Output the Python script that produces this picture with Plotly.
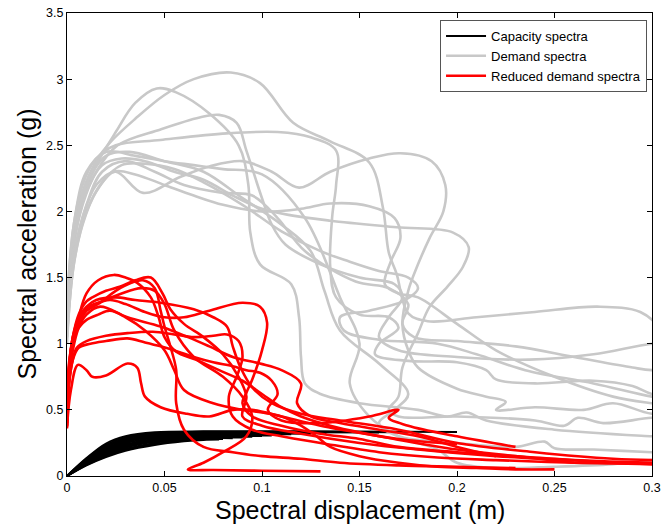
import plotly.graph_objects as go

# ---------------- Capacity spectra (Sd [m], Sa [g]) ----------------
CAP_SD = [
    [0, 0.010, 0.020, 0.030, 0.045, 0.070, 0.120, 0.200],
    [0, 0.010, 0.020, 0.030, 0.045, 0.070, 0.120, 0.168],
    [0, 0.010, 0.020, 0.030, 0.045, 0.070, 0.120, 0.160],
    [0, 0.010, 0.020, 0.030, 0.045, 0.070, 0.100, 0.133],
    [0, 0.010, 0.020, 0.030, 0.045, 0.070, 0.100, 0.125],
    [0, 0.010, 0.020, 0.030, 0.045, 0.070, 0.090, 0.115],
    [0, 0.010, 0.020, 0.030, 0.045, 0.070, 0.090, 0.110],
    [0, 0.010, 0.020, 0.030, 0.045, 0.070, 0.085, 0.105],
    [0, 0.010, 0.020, 0.030, 0.045, 0.065, 0.080, 0.100],
    [0, 0.010, 0.020, 0.030, 0.045, 0.065, 0.080, 0.095],
    [0, 0.010, 0.020, 0.030, 0.045, 0.060, 0.075, 0.090],
    [0, 0.010, 0.020, 0.030, 0.045, 0.060, 0.075, 0.085],
    [0, 0.010, 0.020, 0.030, 0.045, 0.060, 0.070, 0.080],
    [0, 0.010, 0.020, 0.030, 0.045, 0.060, 0.070, 0.078],
]
CAP_SA = [
    [0, 0.135, 0.245, 0.300, 0.330, 0.338, 0.338, 0.333],
    [0, 0.130, 0.235, 0.292, 0.324, 0.334, 0.334, 0.330],
    [0, 0.125, 0.226, 0.283, 0.317, 0.330, 0.330, 0.328],
    [0, 0.120, 0.217, 0.274, 0.310, 0.325, 0.326, 0.324],
    [0, 0.115, 0.208, 0.265, 0.303, 0.320, 0.322, 0.320],
    [0, 0.110, 0.199, 0.256, 0.296, 0.314, 0.316, 0.316],
    [0, 0.106, 0.191, 0.247, 0.289, 0.309, 0.312, 0.312],
    [0, 0.102, 0.183, 0.238, 0.282, 0.304, 0.307, 0.307],
    [0, 0.098, 0.175, 0.229, 0.274, 0.296, 0.302, 0.302],
    [0, 0.094, 0.168, 0.221, 0.266, 0.290, 0.297, 0.297],
    [0, 0.090, 0.161, 0.213, 0.258, 0.281, 0.291, 0.291],
    [0, 0.087, 0.155, 0.205, 0.250, 0.275, 0.286, 0.286],
    [0, 0.084, 0.149, 0.198, 0.242, 0.268, 0.279, 0.280],
    [0, 0.081, 0.144, 0.191, 0.235, 0.262, 0.273, 0.275],
]

# ---------------- Demand spectra ----------------
DEM_SD = [
    [0, 0.003, 0.008, 0.015, 0.022, 0.035, 0.050, 0.065, 0.084, 0.099, 0.116, 0.135, 0.155, 0.162, 0.165, 0.169, 0.175, 0.185, 0.210, 0.240, 0.272, 0.294, 0.305, 0.310],
    [0, 0.003, 0.008, 0.015, 0.025, 0.035, 0.046, 0.056, 0.073, 0.088, 0.093, 0.094, 0.099, 0.115, 0.119, 0.120, 0.122, 0.130, 0.150, 0.180, 0.195, 0.205, 0.215, 0.250, 0.300, 0.330],
    [0, 0.003, 0.008, 0.015, 0.026, 0.048, 0.068, 0.078, 0.087, 0.092, 0.100, 0.105, 0.112, 0.130, 0.150, 0.168, 0.172, 0.165, 0.160, 0.170, 0.200, 0.237, 0.270, 0.300, 0.320],
    [0, 0.003, 0.008, 0.015, 0.025, 0.048, 0.082, 0.108, 0.125, 0.138, 0.138, 0.136, 0.135, 0.138, 0.150, 0.165, 0.170, 0.160, 0.158, 0.175, 0.200, 0.215, 0.220, 0.240, 0.270, 0.290, 0.300, 0.320],
    [0, 0.003, 0.008, 0.015, 0.025, 0.039, 0.058, 0.073, 0.090, 0.105, 0.119, 0.135, 0.155, 0.171, 0.187, 0.194, 0.193, 0.186, 0.180, 0.175, 0.172, 0.175, 0.180, 0.200, 0.215, 0.225, 0.220, 0.240, 0.265, 0.280, 0.300, 0.330],
    [0, 0.004, 0.010, 0.018, 0.028, 0.040, 0.055, 0.070, 0.085, 0.100, 0.115, 0.135, 0.169, 0.198, 0.206, 0.203, 0.195, 0.186, 0.180, 0.172, 0.170, 0.165, 0.170, 0.200, 0.240, 0.255, 0.262, 0.275, 0.300, 0.320],
    [0, 0.003, 0.008, 0.015, 0.024, 0.035, 0.050, 0.065, 0.080, 0.100, 0.120, 0.135, 0.155, 0.168, 0.171, 0.166, 0.163, 0.170, 0.180, 0.200, 0.220, 0.250, 0.280, 0.300, 0.320],
    [0, 0.004, 0.010, 0.018, 0.028, 0.040, 0.055, 0.070, 0.090, 0.110, 0.130, 0.145, 0.160, 0.175, 0.180, 0.172, 0.155, 0.140, 0.142, 0.160, 0.190, 0.210, 0.235, 0.270, 0.300, 0.320],
    [0, 0.004, 0.010, 0.018, 0.030, 0.045, 0.060, 0.080, 0.095, 0.108, 0.122, 0.148, 0.165, 0.175, 0.172, 0.178, 0.200, 0.230, 0.260, 0.290, 0.300, 0.320],
    [0, 0.004, 0.010, 0.020, 0.032, 0.050, 0.070, 0.090, 0.110, 0.125, 0.132, 0.140, 0.160, 0.175, 0.168, 0.160, 0.170, 0.200, 0.230, 0.245, 0.250, 0.270, 0.300, 0.320],
    [0, 0.004, 0.010, 0.020, 0.035, 0.050, 0.065, 0.080, 0.100, 0.122, 0.140, 0.150, 0.145, 0.155, 0.170, 0.190, 0.200, 0.220, 0.250, 0.280, 0.300, 0.320],
]
DEM_SA = [
    [1.20, 1.80, 2.15, 2.38, 2.52, 2.70, 2.88, 3.00, 3.05, 2.97, 2.67, 2.53, 2.37, 2.03, 1.69, 1.53, 1.23, 1.17, 1.20, 1.24, 1.28, 1.24, 1.10, 0.95],
    [1.15, 1.75, 2.10, 2.35, 2.60, 2.82, 2.93, 2.90, 2.74, 2.50, 2.20, 1.84, 1.60, 1.45, 1.20, 0.90, 0.70, 0.62, 0.55, 0.50, 0.45, 0.48, 0.42, 0.35, 0.30, 0.28],
    [1.10, 1.70, 2.05, 2.30, 2.50, 2.62, 2.71, 2.73, 2.67, 2.46, 2.10, 1.90, 1.75, 1.60, 1.50, 1.45, 1.35, 1.20, 1.05, 0.95, 0.90, 0.88, 0.92, 1.00, 1.02],
    [1.25, 1.85, 2.20, 2.40, 2.50, 2.54, 2.59, 2.60, 2.56, 2.46, 2.20, 1.96, 1.58, 1.35, 1.22, 1.20, 1.12, 1.00, 0.92, 0.87, 0.86, 0.80, 0.73, 0.70, 0.72, 0.68, 0.62, 0.60],
    [1.05, 1.60, 1.95, 2.20, 2.30, 2.14, 2.26, 2.34, 2.38, 2.30, 2.18, 2.30, 2.40, 2.44, 2.38, 2.20, 2.00, 1.80, 1.60, 1.40, 1.15, 0.95, 0.82, 0.66, 0.60, 0.56, 0.50, 0.52, 0.50, 0.55, 0.47, 0.45],
    [1.15, 1.80, 2.15, 2.35, 2.40, 2.38, 2.30, 2.24, 2.12, 2.02, 1.97, 1.93, 1.88, 1.84, 1.73, 1.58, 1.43, 1.28, 1.08, 0.82, 0.60, 0.50, 0.45, 0.45, 0.42, 0.38, 0.44, 0.40, 0.44, 0.45],
    [1.00, 1.55, 1.90, 2.15, 2.30, 2.28, 2.20, 2.12, 2.05, 2.00, 2.02, 2.06, 2.04, 1.95, 1.80, 1.62, 1.45, 1.38, 1.35, 1.15, 0.95, 0.75, 0.60, 0.55, 0.52],
    [1.05, 1.65, 2.00, 2.22, 2.35, 2.36, 2.32, 2.22, 2.05, 1.85, 1.70, 1.62, 1.55, 1.50, 1.42, 1.32, 1.25, 1.20, 1.10, 1.03, 1.00, 0.92, 0.80, 0.70, 0.60, 0.55],
    [1.10, 1.70, 2.05, 2.30, 2.38, 2.30, 2.20, 2.14, 2.12, 1.95, 1.70, 1.47, 1.42, 1.30, 1.15, 1.05, 1.02, 0.98, 0.90, 0.82, 0.80, 0.80],
    [1.20, 1.85, 2.20, 2.42, 2.45, 2.38, 2.30, 2.10, 1.90, 1.70, 1.40, 1.10, 0.85, 0.62, 0.50, 0.40, 0.30, 0.25, 0.22, 0.26, 0.21, 0.20, 0.18, 0.17],
    [1.30, 1.95, 2.30, 2.45, 2.42, 2.38, 2.35, 2.32, 2.28, 1.95, 1.35, 1.00, 0.70, 0.45, 0.30, 0.20, 0.10, 0.06, 0.07, 0.09, 0.12, 0.14],
]

# ---------------- Reduced demand spectra ----------------
RED_SD = [
    [0, 0.001, 0.003, 0.006, 0.010, 0.016, 0.024, 0.030, 0.036, 0.043, 0.047, 0.050, 0.056, 0.066, 0.078, 0.090, 0.100, 0.110, 0.120, 0.135, 0.150, 0.170, 0.200],
    [0, 0.001, 0.003, 0.006, 0.010, 0.013, 0.020, 0.027, 0.035, 0.043, 0.049, 0.053, 0.060, 0.070, 0.080, 0.088, 0.092, 0.090, 0.100, 0.120, 0.150, 0.180, 0.220, 0.260, 0.300, 0.320],
    [0, 0.001, 0.003, 0.006, 0.010, 0.016, 0.025, 0.033, 0.039, 0.045, 0.048, 0.050, 0.053, 0.056, 0.056, 0.060, 0.070, 0.085, 0.100, 0.120, 0.140, 0.170, 0.200, 0.230],
    [0, 0.001, 0.003, 0.006, 0.010, 0.015, 0.022, 0.030, 0.040, 0.050, 0.060, 0.073, 0.090, 0.099, 0.1026, 0.100, 0.095, 0.092, 0.090, 0.095, 0.110, 0.130, 0.150, 0.170, 0.200, 0.240, 0.280, 0.300, 0.320],
    [0, 0.002, 0.0056, 0.010, 0.013, 0.020, 0.031, 0.036, 0.038, 0.040, 0.048, 0.0615, 0.073, 0.085, 0.095, 0.110, 0.130, 0.160, 0.200, 0.230, 0.260],
    [0, 0.001, 0.003, 0.005, 0.010, 0.020, 0.031, 0.044, 0.055, 0.065, 0.075, 0.082, 0.088, 0.090, 0.087, 0.083, 0.085, 0.095, 0.110, 0.130, 0.160, 0.190, 0.220, 0.260, 0.300],
    [0, 0.001, 0.003, 0.006, 0.012, 0.020, 0.031, 0.040, 0.048, 0.057, 0.065, 0.075, 0.085, 0.092, 0.099, 0.105, 0.108, 0.103, 0.110, 0.130, 0.155, 0.170, 0.165, 0.175, 0.200, 0.230],
    [0, 0.001, 0.003, 0.006, 0.010, 0.017, 0.031, 0.048, 0.062, 0.073, 0.085, 0.099, 0.110, 0.120, 0.118, 0.125, 0.140, 0.160, 0.180, 0.200, 0.220],
    [0, 0.001, 0.003, 0.006, 0.010, 0.015, 0.025, 0.035, 0.048, 0.065, 0.075, 0.082, 0.085, 0.089, 0.095, 0.105, 0.120, 0.140, 0.170, 0.200, 0.240, 0.280, 0.300, 0.320],
    [0, 0.001, 0.003, 0.006, 0.010, 0.016, 0.022, 0.030, 0.040, 0.050, 0.055, 0.060, 0.075, 0.090, 0.100, 0.110, 0.120, 0.128, 0.135, 0.150, 0.170, 0.190, 0.210, 0.230, 0.250],
    [0, 0.001, 0.003, 0.006, 0.010, 0.018, 0.028, 0.038, 0.045, 0.050, 0.055, 0.065, 0.080, 0.090, 0.095, 0.092, 0.080, 0.070, 0.062, 0.075, 0.100, 0.130],
]
RED_SA = [
    [0.40, 0.75, 1.00, 1.20, 1.38, 1.48, 1.52, 1.50, 1.46, 1.35, 1.20, 1.05, 0.94, 0.88, 0.80, 0.72, 0.62, 0.52, 0.45, 0.38, 0.33, 0.28, 0.24],
    [0.45, 0.80, 1.05, 1.22, 1.32, 1.35, 1.40, 1.43, 1.48, 1.50, 1.38, 1.26, 1.15, 1.05, 0.92, 0.75, 0.60, 0.45, 0.38, 0.32, 0.25, 0.20, 0.15, 0.12, 0.10, 0.10],
    [0.38, 0.75, 1.00, 1.15, 1.25, 1.30, 1.40, 1.46, 1.48, 1.42, 1.25, 1.13, 0.98, 0.80, 0.55, 0.35, 0.22, 0.18, 0.15, 0.13, 0.10, 0.08, 0.07, 0.06],
    [0.42, 0.78, 1.00, 1.15, 1.25, 1.30, 1.33, 1.30, 1.24, 1.20, 1.20, 1.25, 1.31, 1.28, 1.16, 0.95, 0.73, 0.63, 0.55, 0.45, 0.38, 0.32, 0.28, 0.22, 0.18, 0.14, 0.10, 0.09, 0.08],
    [0.37, 0.65, 0.84, 0.80, 0.75, 0.76, 0.85, 0.82, 0.70, 0.60, 0.52, 0.47, 0.45, 0.50, 0.50, 0.45, 0.38, 0.30, 0.20, 0.15, 0.10],
    [0.40, 0.70, 0.88, 0.97, 1.02, 1.06, 1.08, 1.09, 1.07, 1.05, 1.06, 1.07, 1.02, 0.90, 0.75, 0.60, 0.45, 0.35, 0.30, 0.25, 0.18, 0.14, 0.12, 0.10, 0.09],
    [0.38, 0.68, 0.88, 0.97, 1.00, 1.02, 1.04, 1.01, 0.98, 0.94, 0.90, 0.86, 0.83, 0.80, 0.78, 0.72, 0.62, 0.50, 0.42, 0.40, 0.45, 0.50, 0.44, 0.38, 0.30, 0.22],
    [0.36, 0.70, 0.95, 1.12, 1.22, 1.28, 1.20, 1.13, 1.05, 0.98, 0.90, 0.85, 0.80, 0.70, 0.55, 0.45, 0.40, 0.35, 0.30, 0.22, 0.15],
    [0.42, 0.80, 1.05, 1.20, 1.28, 1.33, 1.35, 1.33, 1.31, 1.26, 1.20, 1.13, 0.98, 0.82, 0.67, 0.55, 0.47, 0.42, 0.35, 0.25, 0.18, 0.13, 0.12, 0.12],
    [0.50, 0.85, 1.02, 1.12, 1.18, 1.22, 1.25, 1.20, 1.10, 0.95, 0.80, 0.65, 0.55, 0.50, 0.48, 0.45, 0.38, 0.30, 0.22, 0.15, 0.10, 0.07, 0.06, 0.05, 0.05],
    [0.45, 0.82, 1.05, 1.18, 1.27, 1.32, 1.38, 1.42, 1.40, 1.30, 1.10, 0.90, 0.75, 0.60, 0.45, 0.30, 0.18, 0.10, 0.05, 0.045, 0.04, 0.035],
]

X_TICKS = [0, 0.05, 0.1, 0.15, 0.2, 0.25, 0.3]
X_TICK_TEXT = ["0", "0.05", "0.1", "0.15", "0.2", "0.25", "0.3"]
Y_TICKS = [0, 0.5, 1, 1.5, 2, 2.5, 3, 3.5]
Y_TICK_TEXT = ["0", "0.5", "1", "1.5", "2", "2.5", "3", "3.5"]
X_TITLE = "Spectral displacement (m)"
Y_TITLE = "Spectral acceleration (g)"

GROUPS = [
    ("Capacity spectra", CAP_SD, CAP_SA, "#000000", 2.0),
    ("Demand spectra", DEM_SD, DEM_SA, "#c8c8c8", 2.6),
    ("Reduced demand spectra", RED_SD, RED_SA, "#ff0000", 2.6),
]

FONT = "Liberation Sans, Arial, Helvetica, sans-serif"

fig = go.Figure()
for name, xs, ys, color, width in GROUPS:
    for i, (x, y) in enumerate(zip(xs, ys)):
        fig.add_trace(go.Scatter(
            x=x, y=y, mode="lines",
            line=dict(color=color, width=width, shape="spline", smoothing=1.0),
            name=name, legendgroup=name, showlegend=(i == 0),
            hoverinfo="skip",
        ))

axis_common = dict(
    showline=True, linecolor="black", linewidth=1, mirror="ticks",
    ticks="inside", ticklen=5, tickcolor="black", showgrid=False, zeroline=False,
    automargin=False,
    tickfont=dict(family=FONT, size=12.5, color="black"),
)

fig.update_layout(
    width=662, height=525,
    margin=dict(l=67, r=10, t=13, b=49),
    paper_bgcolor="white", plot_bgcolor="white",
    font=dict(family=FONT, color="black"),
    xaxis=dict(range=[0, 0.3], tickvals=X_TICKS, ticktext=X_TICK_TEXT, **axis_common),
    yaxis=dict(range=[0, 3.5], tickvals=Y_TICKS, ticktext=Y_TICK_TEXT, **axis_common),
    legend=dict(x=0.9915, y=0.985, xanchor="right", yanchor="top",
                bgcolor="white", bordercolor="#555555", borderwidth=1,
                font=dict(family=FONT, size=13, color="black"),
                tracegroupgap=0, itemwidth=40),
    showlegend=True,
    annotations=[
        dict(text=X_TITLE, xref="paper", yref="paper", x=0.5, y=0,
             xanchor="center", yanchor="middle", yshift=-34, showarrow=False,
             font=dict(family=FONT, size=25, color="black")),
        dict(text=Y_TITLE, xref="paper", yref="paper", x=0, y=0.5,
             xanchor="center", yanchor="middle", xshift=-41, textangle=-90,
             showarrow=False, font=dict(family=FONT, size=25, color="black")),
    ],
)

fig.write_html("out.html")
